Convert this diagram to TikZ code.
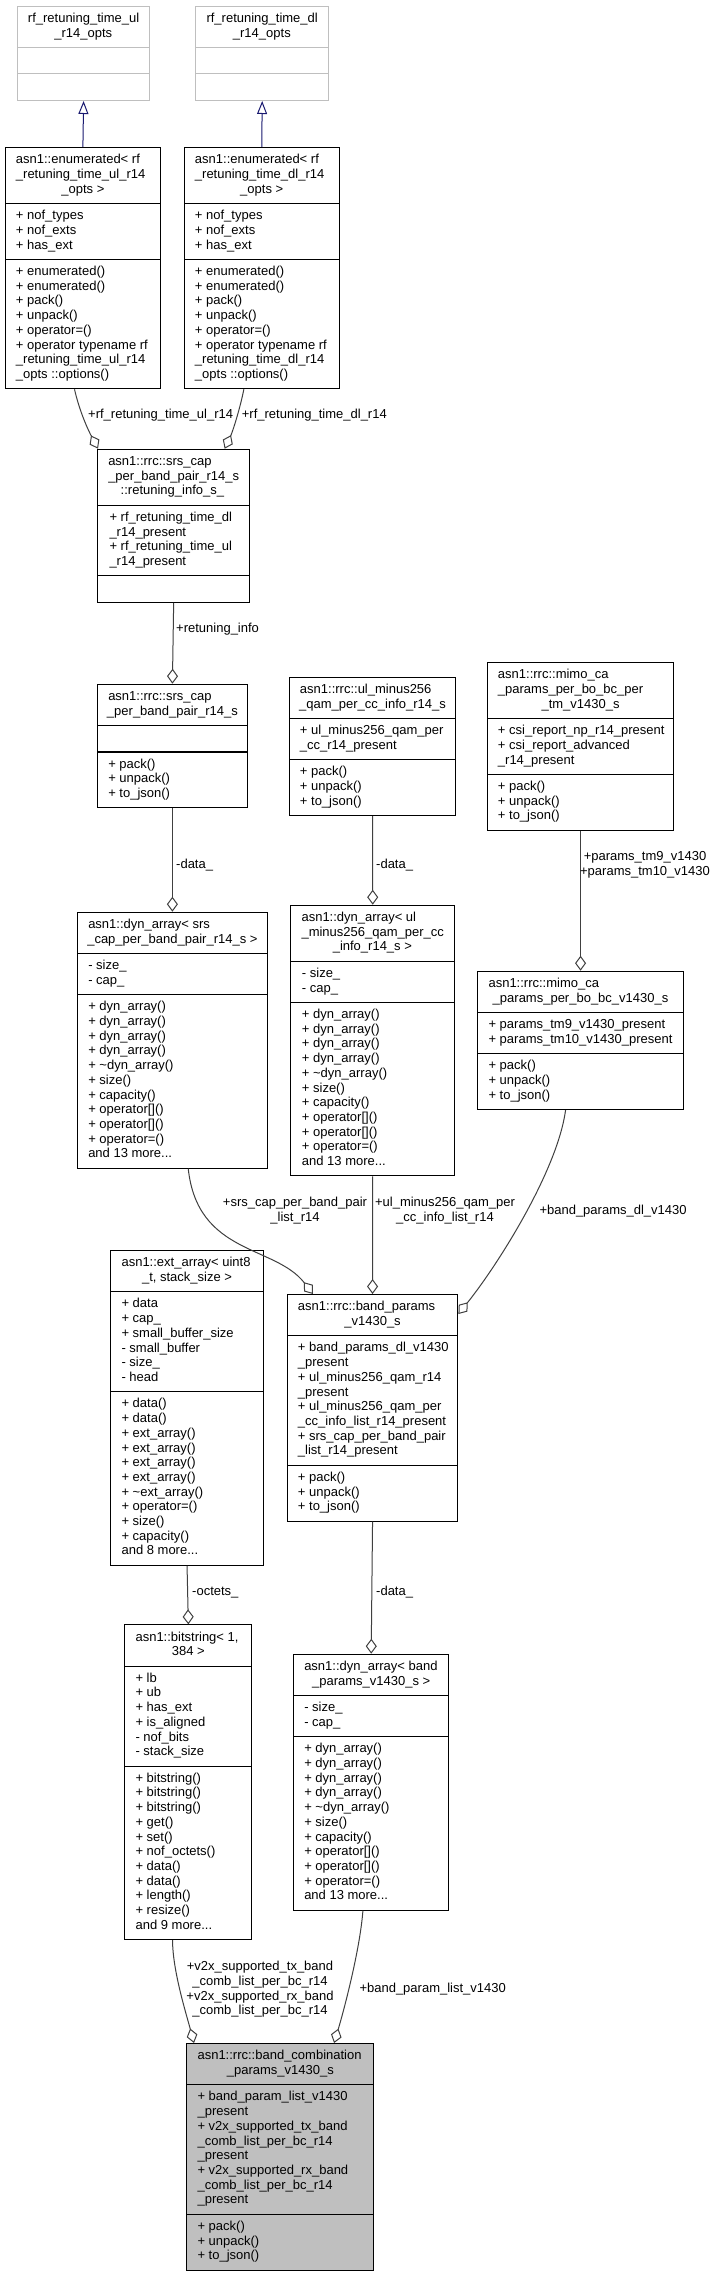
\documentclass[tikz,border=0pt]{standalone}
\usepackage{fontspec}
\setmainfont{Liberation Sans}
\usetikzlibrary{shapes.multipart,arrows.meta,calc}
\definecolor{edgec}{HTML}{404040}
\definecolor{inhc}{HTML}{191970}
\definecolor{boxg}{HTML}{BFBFBF}
\catcode`\_=12
\newlength\cw
\newcommand\ttl[2]{\begin{tabular}{@{}l@{}}#1\\\makebox[\cw]{#2}\end{tabular}}
\newcommand\mem[1]{\makebox[\cw][l]{\begin{tabular}{@{}l@{}}#1\end{tabular}}}
\newcommand\emp{\makebox[\cw][l]{\strut}}
\newcommand\pku{\mem{+ pack()\\+ unpack()\\+ to_json()}}
\newcommand\szcap{\mem{- size_\\- cap_}}
\newcommand\dynm{\mem{+ dyn_array()\\+ dyn_array()\\+ dyn_array()\\+ dyn_array()\\+ \textasciitilde dyn_array()\\+ size()\\+ capacity()\\+ operator[]()\\+ operator[]()\\+ operator=()\\and 13 more...}}
\newcommand\lb[1]{\begin{tabular}{@{}c@{}}#1\end{tabular}}
\AtBeginDocument{\fontsize{13}{14.7}\selectfont}
\begin{document}
\begin{tikzpicture}[x=1pt,y=-1pt,
  every node/.style={font=\fontsize{13}{14.7}\selectfont},
  cls/.style={rectangle split, rectangle split parts=3, draw=black, line width=1.1pt, fill=white, anchor=north west, inner xsep=10.7pt, inner ysep=5.35pt, text=black},
  gcls/.style={cls, draw=boxg},
  hcls/.style={cls, fill=boxg},
  agg/.style={draw=edgec, line width=1pt, -{Diamond[open,length=15pt,width=11pt]}},
  inh/.style={draw=inhc, line width=1pt, -{Triangle[open,length=13pt,width=10pt]}},
  lbl/.style={inner sep=0pt}]
\fill[white] (0,0) rectangle (715,2272);
\useasboundingbox (0,0) rectangle (715,2272);

% classes
\setlength\cw{110.6pt}
\node[gcls] (A) at (16.7,5.7) {\ttl{rf_retuning_time_ul}{_r14_opts}\nodepart{two}\emp\nodepart{three}\emp};
\node[gcls] (B) at (195.3,5.7) {\ttl{rf_retuning_time_dl}{_r14_opts}\nodepart{two}\emp\nodepart{three}\emp};

\setlength\cw{133.9pt}
\node[cls] (C) at (4.7,147) {\ttl{asn1::enumerated< rf\\_retuning_time_ul_r14}{_opts >}\nodepart{two}\mem{+ nof_types\\+ nof_exts\\+ has_ext}\nodepart{three}\mem{+ enumerated()\\+ enumerated()\\+ pack()\\+ unpack()\\+ operator=()\\+ operator typename rf\\_retuning_time_ul_r14\\_opts ::options()}};
\setlength\cw{133.6pt}
\node[cls] (D) at (183.7,147) {\ttl{asn1::enumerated< rf\\_retuning_time_dl_r14}{_opts >}\nodepart{two}\mem{+ nof_types\\+ nof_exts\\+ has_ext}\nodepart{three}\mem{+ enumerated()\\+ enumerated()\\+ pack()\\+ unpack()\\+ operator=()\\+ operator typename rf\\_retuning_time_dl_r14\\_opts ::options()}};

\setlength\cw{128.3pt}
\node[cls] (E) at (97,448.7) {\ttl{asn1::rrc::srs_cap\\_per_band_pair_r14_s}{::retuning_info_s_}\nodepart{two}\mem{+ rf_retuning_time_dl\\_r14_present\\+ rf_retuning_time_ul\\_r14_present}\nodepart{three}\emp};
\node[cls] (F) at (97,683.7) {\ttl{asn1::rrc::srs_cap}{_per_band_pair_r14_s}\nodepart{two}\emp\nodepart{three}\pku};

\setlength\cw{145.2pt}
\node[cls] (G) at (288.7,676.7) {\ttl{asn1::rrc::ul_minus256}{_qam_per_cc_info_r14_s}\nodepart{two}\mem{+ ul_minus256_qam_per\\_cc_r14_present}\nodepart{three}\pku};

\setlength\cw{165.2pt}
\node[cls] (H) at (486.7,662) {\ttl{asn1::rrc::mimo_ca\\_params_per_bo_bc_per}{_tm_v1430_s}\nodepart{two}\mem{+ csi_report_np_r14_present\\+ csi_report_advanced\\_r14_present}\nodepart{three}\pku};

\setlength\cw{168.3pt}
\node[cls] (I) at (77,911.7) {\ttl{asn1::dyn_array< srs}{_cap_per_band_pair_r14_s >}\nodepart{two}\szcap\nodepart{three}\dynm};

\setlength\cw{141.6pt}
\node[cls] (J) at (290.3,904.7) {\ttl{asn1::dyn_array< ul\\_minus256_qam_per_cc}{_info_r14_s >}\nodepart{two}\szcap\nodepart{three}\dynm};

\setlength\cw{184pt}
\node[cls] (K) at (477.3,970.7) {\ttl{asn1::rrc::mimo_ca}{_params_per_bo_bc_v1430_s}\nodepart{two}\mem{+ params_tm9_v1430_present\\+ params_tm10_v1430_present}\nodepart{three}\pku};

\setlength\cw{131pt}
\node[cls] (L) at (110.3,1250) {\ttl{asn1::ext_array< uint8}{_t, stack_size >}\nodepart{two}\mem{+ data\\+ cap_\\+ small_buffer_size\\- small_buffer\\- size_\\- head}\nodepart{three}\mem{+ data()\\+ data()\\+ ext_array()\\+ ext_array()\\+ ext_array()\\+ ext_array()\\+ \textasciitilde ext_array()\\+ operator=()\\+ size()\\+ capacity()\\and 8 more...}};

\setlength\cw{149.2pt}
\node[cls] (M) at (286.7,1294) {\ttl{asn1::rrc::band_params}{_v1430_s}\nodepart{two}\mem{+ band_params_dl_v1430\\_present\\+ ul_minus256_qam_r14\\_present\\+ ul_minus256_qam_per\\_cc_info_list_r14_present\\+ srs_cap_per_band_pair\\_list_r14_present}\nodepart{three}\pku};

\setlength\cw{105.6pt}
\node[cls] (N) at (124.3,1624.3) {\ttl{asn1::bitstring< 1,}{384 >}\nodepart{two}\mem{+ lb\\+ ub\\+ has_ext\\+ is_aligned\\- nof_bits\\- stack_size}\nodepart{three}\mem{+ bitstring()\\+ bitstring()\\+ bitstring()\\+ get()\\+ set()\\+ nof_octets()\\+ data()\\+ data()\\+ length()\\+ resize()\\and 9 more...}};

\setlength\cw{133.9pt}
\node[cls] (O) at (293,1653.7) {\ttl{asn1::dyn_array< band}{_params_v1430_s >}\nodepart{two}\szcap\nodepart{three}\dynm};

\setlength\cw{165.6pt}
\node[hcls] (P) at (186.3,2043) {\ttl{asn1::rrc::band_combination}{_params_v1430_s}\nodepart{two}\mem{+ band_param_list_v1430\\_present\\+ v2x_supported_tx_band\\_comb_list_per_bc_r14\\_present\\+ v2x_supported_rx_band\\_comb_list_per_bc_r14\\_present}\nodepart{three}\pku};

% connectors
\draw[inh] (C.north) -- (A.south);
\draw[inh] (D.north) -- (B.south);
\draw[agg] ($(C.south)+(-8.4,0)$) .. controls +(5,22) and +(-10,-19) .. ($(E.north west)+(1,0)$);
\draw[agg] ($(D.south)+(-17.9,0)$) .. controls +(-4,20) and +(8,-17) .. ($(E.north east)+(-25.7,0)$);
\draw[agg] (E.south) -- (F.north);
\draw[agg] (F.south) -- (I.north);
\draw[agg] (G.south) -- (J.north);
\draw[agg] (H.south) -- (K.north);
\draw[agg] ($(I.south)+(15.85,0)$) .. controls +(9.3,86.3) and +(-38,-49) .. ($(M.north west)+(26.3,0)$);
\draw[agg] (J.south) -- (M.north);
\draw[agg] ($(K.south)+(-15,0)$) .. controls +(-8,60) and +(40,-50) .. ($(M.north east)+(0,20)$);
\draw[agg] (M.south) -- (O.north);
\draw[agg] (L.south) -- (N.north);
\draw[agg] ($(N.south)+(-15.8,0)$) .. controls +(0,30) and +(-8,-30) .. ($(P.north west)+(7.7,0)$);
\draw[agg] ($(O.south)+(-8.3,0)$) .. controls +(-3,40) and +(9,-30) .. ($(P.north east)+(-40.3,0)$);

% labels
\node[lbl, anchor=north west] (l1) at (88,408.5) {\lb{+rf_retuning_time_ul_r14}};
\node[lbl, anchor=north west] (l2) at (241.7,408.5) {\lb{+rf_retuning_time_dl_r14}};
\node[lbl, anchor=north west] (l3) at (176,622.5) {\lb{+retuning_info}};
\node[lbl, anchor=north west] (l4) at (176,858.5) {\lb{-data_}};
\node[lbl, anchor=north west] (l5) at (376,858.5) {\lb{-data_}};
\node[lbl, anchor=north] (l6) at (645,850.2) {\lb{+params_tm9_v1430\\+params_tm10_v1430}};
\node[lbl, anchor=north] (l7) at (295,1196.2) {\lb{+srs_cap_per_band_pair\\_list_r14}};
\node[lbl, anchor=north] (l8) at (445,1196.2) {\lb{+ul_minus256_qam_per\\_cc_info_list_r14}};
\node[lbl, anchor=north west] (l9) at (539.3,1203.5) {\lb{+band_params_dl_v1430}};
\node[lbl, anchor=north west] (l10) at (192,1585.2) {\lb{-octets_}};
\node[lbl, anchor=north west] (l11) at (376,1585.2) {\lb{-data_}};
\node[lbl, anchor=north] (l12) at (260,1960.2) {\lb{+v2x_supported_tx_band\\_comb_list_per_bc_r14\\+v2x_supported_rx_band\\_comb_list_per_bc_r14}};
\node[lbl, anchor=north west] (l13) at (359.3,1981.8) {\lb{+band_param_list_v1430}};
\end{tikzpicture}
\end{document}
